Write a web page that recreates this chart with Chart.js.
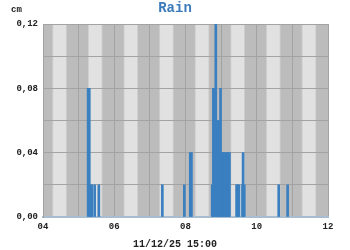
<!DOCTYPE html>
<html>
<head>
<meta charset="utf-8">
<script src="https://cdn.jsdelivr.net/npm/chart.js@4/dist/chart.umd.min.js"></script>
<style>
  html, body { margin: 0; padding: 0; background: #fff; }
  #wrap { width: 350px; height: 250px; }
</style>
</head>
<body>
<div id="wrap"><canvas id="chart" width="350" height="250"></canvas></div>
<script>
  const chartTitle = "Rain";
  const unitLabel = "cm";
  const stampLabel = "11/12/25 15:00";

  // rain per tip time (HH:MM) in cm
  const rainTimes = [
    "05:16", "05:18", "05:21", "05:22", "05:27", "05:34",
    "07:21", "07:58", "08:08", "08:10",
    "08:45", "08:47", "08:48", "08:51", "08:53", "08:55", "08:57", "08:59",
    "09:01", "09:03", "09:05", "09:07", "09:09", "09:11", "09:13", "09:14",
    "09:26", "09:28", "09:30", "09:36", "09:37", "09:39",
    "10:37", "10:52",
  ];
  const rainValues = [
    0.08, 0.08, 0.02, 0.02, 0.02, 0.02,
    0.02, 0.02, 0.04, 0.04,
    0.02, 0.08, 0.08, 0.12, 0.02, 0.06, 0.06, 0.08,
    0.04, 0.04, 0.04, 0.04, 0.04, 0.04, 0.04, 0.04,
    0.02, 0.02, 0.02, 0.02, 0.04, 0.02,
    0.02, 0.02,
  ];
  const hourStart = 4;
  const hourEnd = 12;
  const yMax = 0.12;

  const toHours = (t) => {
    const [h, m] = t.split(":").map(Number);
    return h + m / 60;
  };

  const points = rainTimes.map((t, i) => ({ x: toHours(t), y: rainValues[i] }));

  const monoFont = "'Liberation Mono', 'DejaVu Sans Mono', monospace";
  const textColor = "#222";

  const stripes = {
    id: "stripes",
    beforeDraw(chart) {
      const { ctx, chartArea, scales } = chart;
      ctx.save();
      ctx.fillStyle = "#bcbcbc";
      ctx.fillRect(chartArea.left, chartArea.top, chartArea.right - chartArea.left, chartArea.bottom - chartArea.top);
      for (let h = hourStart; h < hourEnd; h++) {
        const x0 = scales.x.getPixelForValue(h);
        const x1 = scales.x.getPixelForValue(h + 1);
        const g = ctx.createLinearGradient(x0, 0, x1, 0);
        g.addColorStop(0, "#bcbcbc");
        g.addColorStop(0.25, "#bcbcbc");
        g.addColorStop(0.3, "#e1e1e1");
        g.addColorStop(0.63, "#e1e1e1");
        g.addColorStop(0.68, "#bcbcbc");
        g.addColorStop(1, "#bcbcbc");
        ctx.fillStyle = g;
        ctx.fillRect(x0, chartArea.top, x1 - x0, chartArea.bottom - chartArea.top);
      }
      ctx.restore();
    },
  };

  const labels = {
    id: "labels",
    afterDraw(chart) {
      const { ctx } = chart;
      ctx.save();
      ctx.fillStyle = "#3b7bbb";
      ctx.font = `bold 14px ${monoFont}`;
      ctx.textAlign = "center";
      ctx.textBaseline = "alphabetic";
      ctx.fillText(chartTitle, 175, 12);

      ctx.fillStyle = textColor;
      ctx.font = `bold 9px ${monoFont}`;
      ctx.textAlign = "left";
      ctx.fillText(unitLabel, 11, 12);

      ctx.font = `bold 10px ${monoFont}`;
      ctx.textAlign = "center";
      ctx.fillText(stampLabel, 175, 247);
      ctx.restore();
    },
  };

  new Chart(document.getElementById("chart"), {
    type: "bar",
    data: {
      datasets: [
        {
          data: points,
          backgroundColor: "#3a7fc0",
          borderWidth: 0,
          barThickness: 2,
        },
      ],
    },
    options: {
      responsive: false,
      animation: false,
      layout: { padding: { top: 24, right: 22, left: 0, bottom: 0 } },
      plugins: {
        legend: { display: false },
        title: { display: false },
        tooltip: { enabled: false },
      },
      scales: {
        x: {
          type: "linear",
          min: hourStart,
          max: hourEnd,
          offset: false,
          afterFit: (scale) => { scale.height = 33; },
          grid: { color: "#a3a3a3", offset: false, drawTicks: false },
          border: { color: "#a9bdd0", width: 2 },
          ticks: {
            stepSize: 1,
            padding: 4,
            color: textColor,
            font: { family: monoFont, size: 9, weight: "bold" },
            maxRotation: 0,
            autoSkip: false,
            callback: (v) => (v % 2 === 0 ? String(v).padStart(2, "0") : ""),
          },
        },
        y: {
          min: 0,
          max: yMax,
          afterFit: (scale) => { scale.width = 43; },
          grid: { color: "#a3a3a3", drawTicks: false },
          border: { color: "#a3a3a3" },
          ticks: {
            stepSize: 0.02,
            padding: 5,
            color: textColor,
            font: { family: monoFont, size: 9, weight: "bold" },
            callback: (v) => {
              const c = Math.round(v * 100);
              return c % 4 === 0 ? (c / 100).toFixed(2).replace(".", ",") : "";
            },
          },
        },
      },
    },
    plugins: [stripes, labels],
  });
</script>
</body>
</html>
